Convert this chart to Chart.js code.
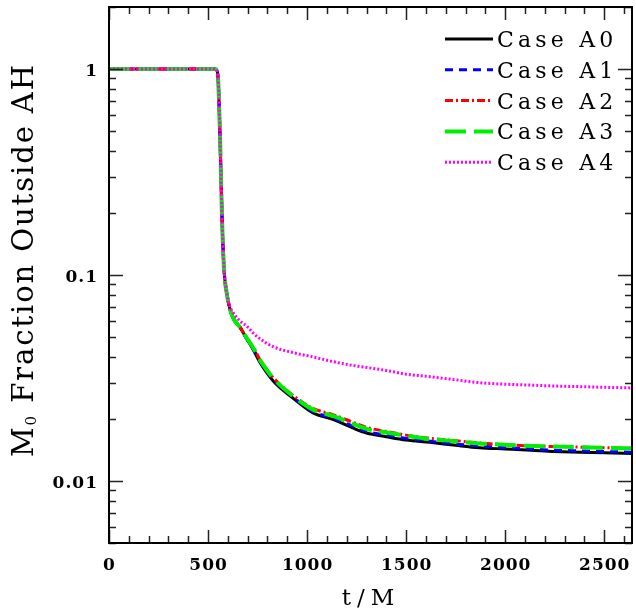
<!DOCTYPE html>
<html>
<head>
<meta charset="utf-8">
<script src="https://cdn.jsdelivr.net/npm/chart.js@4"></script>
<style>
  html, body { margin: 0; padding: 0; background: #fff; }
  #wrap { width: 636px; height: 614px; position: relative; }
</style>
</head>
<body>
<div id="wrap"><canvas id="chart"></canvas></div>
<script>
// time samples (t/M) shared by all cases
const times = [0, 100, 200, 300, 400, 500, 535, 547, 552, 556, 561, 565, 569, 574, 582, 594, 611, 630, 660, 695, 730, 763, 830, 930, 1030, 1130, 1230, 1300, 1400, 1500, 1620, 1750, 1870, 2000, 2130, 2250, 2380, 2500, 2640];

// rest-mass fraction outside the apparent horizon
const caseA0 = [1, 1, 1, 1, 1, 1, 1, 0.97, 0.85, 0.66, 0.45, 0.31, 0.215, 0.148, 0.102, 0.082, 0.068, 0.061, 0.056, 0.049, 0.043, 0.0375, 0.0305, 0.0252, 0.0214, 0.0199, 0.0181, 0.0171, 0.0164, 0.0158, 0.0154, 0.0149, 0.0145, 0.0143, 0.0141, 0.0139, 0.0138, 0.0137, 0.0136];
const caseA1 = [1, 1, 1, 1, 1, 1, 1, 0.97, 0.85, 0.66, 0.45, 0.31, 0.215, 0.148, 0.102, 0.082, 0.068, 0.061, 0.056, 0.049, 0.0435, 0.038, 0.031, 0.0255, 0.0217, 0.0202, 0.0185, 0.0174, 0.0167, 0.0161, 0.0156, 0.0151, 0.0148, 0.0145, 0.0143, 0.0141, 0.014, 0.0139, 0.0138];
const caseA2 = [1, 1, 1, 1, 1, 1, 1, 0.97, 0.85, 0.66, 0.45, 0.31, 0.215, 0.148, 0.102, 0.082, 0.068, 0.061, 0.056, 0.0495, 0.0442, 0.0387, 0.0317, 0.026, 0.0225, 0.021, 0.0193, 0.0182, 0.0174, 0.0167, 0.0161, 0.0157, 0.0153, 0.015, 0.0148, 0.0147, 0.0146, 0.0145, 0.0144];
const caseA3 = [1, 1, 1, 1, 1, 1, 1, 0.97, 0.85, 0.66, 0.45, 0.31, 0.215, 0.148, 0.102, 0.082, 0.068, 0.061, 0.056, 0.0495, 0.044, 0.0385, 0.0315, 0.0258, 0.0222, 0.0207, 0.019, 0.0179, 0.0172, 0.0166, 0.016, 0.0156, 0.0152, 0.015, 0.0148, 0.0147, 0.0146, 0.0145, 0.0144];
const caseA4 = [1, 1, 1, 1, 1, 1, 1, 0.97, 0.85, 0.66, 0.45, 0.31, 0.215, 0.148, 0.102, 0.082, 0.07, 0.065, 0.06, 0.0565, 0.052, 0.049, 0.0448, 0.042, 0.04, 0.038, 0.0364, 0.0356, 0.0344, 0.033, 0.0321, 0.031, 0.03, 0.0295, 0.0292, 0.0289, 0.0287, 0.0285, 0.0283];

const seriesNames = ["Case A0", "Case A1", "Case A2", "Case A3", "Case A4"];
const seriesValues = [caseA0, caseA1, caseA2, caseA3, caseA4];

// axis ticks
const xTicks = [0, 500, 1000, 1500, 2000, 2500];
const yTicks = [0.01, 0.1, 1];
const yTickLabels = ["0.01", "0.1", "1"];

// line styles for each case
const lineColors = ["#000000", "#0000ff", "#ff0000", "#00ee00", "#ff00ff"];
const lineWidths = [3, 3, 3, 4, 3];
const lineDashes = [[], [8, 6], [8, 3, 2, 3], [21, 8], [2, 2]];

const FONT = "'DejaVu Serif', serif";

// Draw frame, inward ticks, labels and legend
const framePlugin = {
  id: "frame",
  afterDraw(chart) {
    const ctx = chart.ctx;
    const area = chart.chartArea;
    const xs = chart.scales.x;
    const ys = chart.scales.y;
    ctx.save();

    // ticks
    ctx.strokeStyle = "#222";
    ctx.lineWidth = 1.5;
    ctx.beginPath();
    for (let t = 0; t <= xs.max; t += 100) {
      const px = Math.round(xs.getPixelForValue(t)) + 0.5;
      const len = t % 500 === 0 ? 13 : 7;
      ctx.moveTo(px, area.bottom);
      ctx.lineTo(px, area.bottom - len);
      ctx.moveTo(px, area.top);
      ctx.lineTo(px, area.top + len);
    }
    for (let d = -3; d <= 0; d++) {
      for (let k = 1; k <= 9; k++) {
        const v = k * Math.pow(10, d);
        if (v < ys.min || v > ys.max) continue;
        const py = Math.round(ys.getPixelForValue(v)) + 0.5;
        const len = k === 1 ? 14 : 7;
        ctx.moveTo(area.left, py);
        ctx.lineTo(area.left + len, py);
        ctx.moveTo(area.right, py);
        ctx.lineTo(area.right - len, py);
      }
    }
    ctx.stroke();

    // frame
    ctx.strokeStyle = "#000";
    ctx.lineWidth = 2;
    ctx.strokeRect(area.left, area.top, area.right - area.left, area.bottom - area.top);

    // tick labels
    ctx.fillStyle = "#000";
    ctx.font = "bold 17px " + FONT;
    ctx.letterSpacing = "1px";
    ctx.textBaseline = "alphabetic";
    ctx.textAlign = "center";
    xTicks.forEach((t) => {
      ctx.fillText(String(t), xs.getPixelForValue(t) + 0.5, 570);
    });
    ctx.textAlign = "right";
    yTicks.forEach((v, i) => {
      ctx.fillText(yTickLabels[i], 97 + 1, ys.getPixelForValue(v) + 7);
    });

    // x title
    ctx.font = "23px " + FONT;
    ctx.letterSpacing = "6px";
    ctx.textAlign = "center";
    ctx.fillText("t/M", 368 + 3, 605);

    // y title, M with subscript 0
    ctx.save();
    ctx.translate(33, 457);
    ctx.rotate(-Math.PI / 2);
    ctx.textAlign = "left";
    const rest = " Fraction Outside AH";
    ctx.letterSpacing = "0px";
    ctx.font = "29px " + FONT;
    const wM = ctx.measureText("M").width;
    const wRest = ctx.measureText(rest).width;
    ctx.font = "15px " + FONT;
    const wSub = ctx.measureText("0").width;
    const gaps = 1 + rest.length;
    const sp = (392 - wM - wRest - wSub) / gaps;
    ctx.font = "29px " + FONT;
    ctx.letterSpacing = sp + "px";
    ctx.fillText("M", 0, 0);
    ctx.font = "15px " + FONT;
    ctx.fillText("0", wM + sp, 3);
    ctx.font = "29px " + FONT;
    ctx.fillText(rest, wM + sp + wSub + sp, 0);
    ctx.restore();

    // legend
    ctx.font = "22px " + FONT;
    ctx.letterSpacing = "4.2px";
    ctx.textAlign = "left";
    seriesNames.forEach((name, i) => {
      const base = 47 + i * 30.8;
      ctx.strokeStyle = lineColors[i];
      ctx.lineWidth = lineWidths[i];
      ctx.setLineDash(lineDashes[i]);
      ctx.beginPath();
      ctx.moveTo(445, base - 8);
      ctx.lineTo(493, base - 8);
      ctx.stroke();
      ctx.setLineDash([]);
      ctx.fillStyle = "#000";
      ctx.fillText(name, 497, base);
    });

    ctx.restore();
  },
};

new Chart(document.getElementById("chart"), {
  type: "line",
  data: {
    datasets: seriesNames.map((name, i) => ({
      label: name,
      data: times.map((t, j) => ({ x: t, y: seriesValues[i][j] })),
      borderColor: lineColors[i],
      backgroundColor: lineColors[i],
      borderWidth: lineWidths[i],
      borderDash: lineDashes[i],
      pointRadius: 0,
      cubicInterpolationMode: "monotone",
      fill: false,
      order: 5 - i, // Case A4 drawn on top
    })),
  },
  options: {
    responsive: true,
    maintainAspectRatio: false,
    animation: false,
    layout: { padding: { top: 7, right: 4, left: 0, bottom: 0 } },
    plugins: {
      legend: { display: false },
      tooltip: { enabled: false },
    },
    scales: {
      x: {
        type: "linear",
        min: 0,
        max: 2640,
        grid: { display: false, drawTicks: false },
        border: { display: false },
        ticks: { display: false },
        afterBuildTicks: (scale) => {
          scale.ticks = xTicks.map((v) => ({ value: v }));
        },
        afterFit: (scale) => {
          scale.height = 71;
        },
      },
      y: {
        type: "logarithmic",
        min: 0.005,
        max: 2,
        grid: { display: false, drawTicks: false },
        border: { display: false },
        ticks: { display: false },
        afterBuildTicks: (scale) => {
          scale.ticks = yTicks.map((v) => ({ value: v }));
        },
        afterFit: (scale) => {
          scale.width = 109;
        },
      },
    },
  },
  plugins: [framePlugin],
});
</script>
</body>
</html>
